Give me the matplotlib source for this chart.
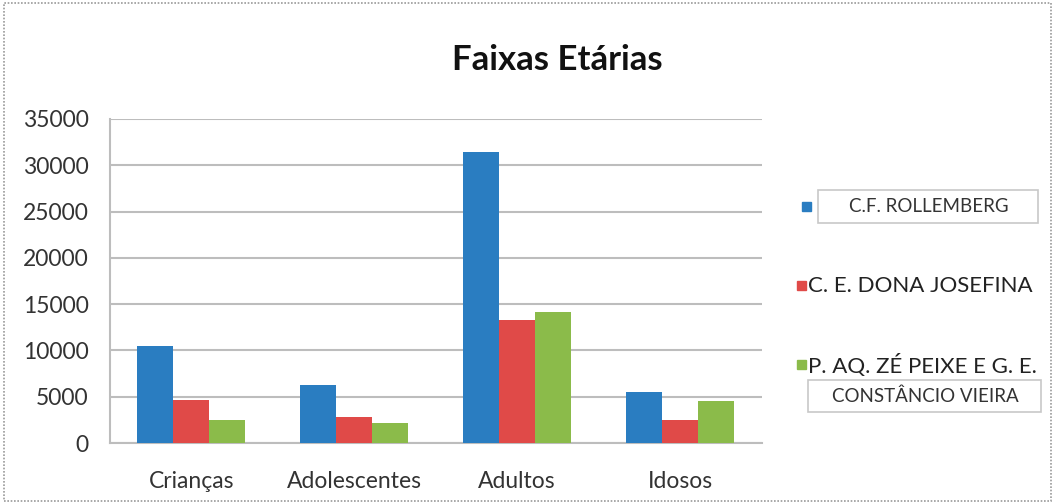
import numpy as np
import matplotlib
matplotlib.use("Agg")
import matplotlib.pyplot as plt
from matplotlib.patches import Rectangle

categories = ["Crianças", "Adolescentes", "Adultos", "Idosos"]
series_names = ["C.F. ROLLEMBERG", "C. E. DONA JOSEFINA", "P. AQ. ZÉ PEIXE E G. E."]
rollemberg = [10450, 6300, 31450, 5550]
josefina = [4650, 2800, 13300, 2450]
ze_peixe = [2450, 2150, 14200, 4550]
colors = ["#2a7dc1", "#e04a48", "#8bbb4a"]
yticks = [0, 5000, 10000, 15000, 20000, 25000, 30000, 35000]

plt.rcParams['font.family'] = ['Lato', 'DejaVu Sans']

fig = plt.figure(figsize=(10.55, 5.04), dpi=100)
ax = fig.add_axes([0.104, 0.121, 0.618, 0.643])

x = np.arange(len(categories))
w = 0.22
for i, vals in enumerate([rollemberg, josefina, ze_peixe]):
    ax.bar(x + (i - 1) * w, vals, width=w, color=colors[i], zorder=3)

ax.set_xlim(-0.5, len(categories) - 0.5)
ax.set_ylim(0, 35000)
ax.set_yticks(yticks)
ax.set_yticklabels([str(v) for v in yticks], fontsize=16.5, color="#333333")
ax.set_xticks(x)
ax.set_xticklabels(categories, fontsize=16.5, color="#333333")
ax.tick_params(axis='y', length=0, pad=15)
ax.tick_params(axis='x', length=0, pad=20)
ax.grid(axis='y', color="#bdbdbd", lw=1.5, zorder=0)
for s in ['top', 'right']:
    ax.spines[s].set_visible(False)
ax.spines['left'].set_color("#bdbdbd")
ax.spines['bottom'].set_color("#bdbdbd")
ax.spines['left'].set_linewidth(1.5)
ax.spines['bottom'].set_linewidth(1.5)

fig.text(0.528, 0.88, "Faixas Etárias", ha='center', va='center',
         fontsize=25, fontweight='bold', color="#111111")

# legend (custom layout)
W, H = 1055, 504
def px(xp, yp):
    return xp / W, 1 - yp / H

def box(x0, y0, x1, y1):
    fx, fy = px(x0, y1)
    fig.add_artist(Rectangle((fx, fy), (x1 - x0) / W, (y1 - y0) / H, fc='white',
                             ec='#c8c8c8', lw=1.2, transform=fig.transFigure))

sq = 9
for (xp, yp), c in zip([(802, 206), (797, 285), (797, 364)], colors):
    fx, fy = px(xp, yp + sq / 2)
    fig.add_artist(Rectangle((fx, fy), sq / W, sq / H, color=c,
                             transform=fig.transFigure))

box(818, 190, 1038, 223)
fig.text(*px(929, 207), series_names[0], ha='center', va='center', fontsize=13.5,
         color="#333333")
fig.text(*px(808, 286), series_names[1], ha='left', va='center', fontsize=16,
         color="#222222")
fig.text(*px(808, 365), series_names[2], ha='left', va='center', fontsize=16,
         color="#222222")
box(808, 380, 1041, 412)
fig.text(*px(925, 396), "CONSTÂNCIO VIEIRA", ha='center', va='center', fontsize=13.5,
         color="#333333")

# outer chart border
fig.add_artist(Rectangle((0.004, 0.006), 0.992, 0.988, fill=False, ec="#9a9a9a",
                         lw=1.2, ls=(0, (1, 1)), transform=fig.transFigure))

fig.savefig("out.png", dpi=100)
